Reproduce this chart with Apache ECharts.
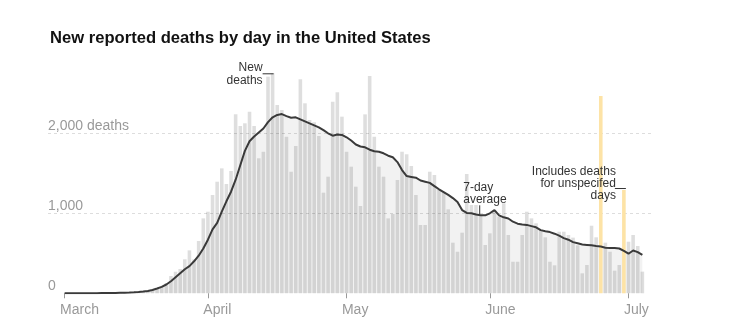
<!DOCTYPE html>
<html><head><meta charset="utf-8">
<script src="https://cdn.jsdelivr.net/npm/echarts@6/dist/echarts.min.js"></script>
<style>html,body{margin:0;padding:0;background:#fff}#c{width:736px;height:328px}</style>
</head><body><div id="c"></div>
<script>
// Day index 0 = March 1, 2020
const dailyDeaths = [
  1, 0, 1, 2, 1, 2, 3, 3, 5, 4, 7, 6, 10, 10,
  12, 18, 23, 30, 35, 50, 60, 85, 125, 216, 270, 304, 425, 537, 425, 654, 937,
  1020, 1229, 1395, 1562, 1366, 1529, 2237, 2091, 2125, 2270, 2091, 1687, 1770, 2708, 2750,
  2354, 2291, 1958, 1520, 1841, 2675, 2375, 2166, 2137, 1966, 1258, 1458, 2395, 2512, 2208,
  1770, 1583, 1333, 1091, 2237, 2716, 1958, 1583, 1458, 937, 991, 1416, 1770, 1737, 1591,
  1229, 854, 854, 1520, 1479, 1300, 1270, 1050, 633, 520, 758, 1491, 1104, 1104, 979, 604,
  750, 1033, 958, 1125, 729, 395, 395, 729, 1020, 937, 875, 791, 700, 395, 350, 770,
  770, 729, 696, 600, 250, 354, 845, 700, 2466, 633, 520, 283, 354, 1291,
  645, 729, 591, 271
];
const sevenDayAvg = [
  0, 0, 0, 1, 1, 1, 2, 2, 3, 3, 4, 5, 6, 7, 9,
  12, 16, 22, 30, 42, 60, 80, 110, 150, 200, 250, 300, 340, 400, 470, 560,
  670, 800, 880, 1020, 1150, 1270, 1420, 1600, 1780, 1900, 1960, 2010, 2060, 2140, 2200,
  2230, 2240, 2215, 2195, 2200, 2175, 2150, 2125, 2100, 2075, 2040, 2000, 1970, 1985, 1980,
  1950, 1910, 1860, 1835, 1825, 1795, 1775, 1770, 1750, 1720, 1700, 1640, 1540, 1465, 1455,
  1445, 1410, 1395, 1380, 1340, 1300, 1265, 1230, 1190, 1140, 1040, 1005, 1000, 985, 975, 975,
  1000, 1040, 975, 950, 935, 895, 870, 860, 855, 840, 825, 790, 775, 765, 745,
  720, 690, 670, 640, 625, 610, 605, 600, 590, 585, 570, 565, 565, 560,
  530, 495, 535, 515, 480
];
const highlightDays = [116, 121];
const monthTickDays = [0, 31, 61, 92, 122];
const monthLabels = ['March', 'April', 'May', 'June', 'July'];
const yTickLabels = {0: '0', 1000: '1,000', 2000: '2,000 deaths'};

const chart = echarts.init(document.getElementById('c'), null, {renderer: 'canvas'});
const FONT = '"Liberation Sans", Arial, sans-serif';

const barData = dailyDeaths.map((v, i) => {
  if (highlightDays.includes(i)) {
    return {value: [i, v], itemStyle: {color: '#fde3a6'}};
  }
  return [i, v];
});
const avgData = sevenDayAvg.map((v, i) => [i, v]);
// month labels sit a day to the left of their tick, left-aligned
const labelDays = monthTickDays.map(d => d - 1);

chart.setOption({
  animation: false,
  title: {
    text: 'New reported deaths by day in the United States',
    left: 50, top: 30, padding: 0,
    textStyle: {fontFamily: FONT, fontSize: 16.6, fontWeight: 'bold', color: '#121212'}
  },
  grid: {left: 48, width: 605, top: 53.3, bottom: 34.7},
  xAxis: {
    type: 'value', min: -3.6, max: 127.3,
    splitLine: {show: false},
    axisLine: {show: false},
    axisTick: {show: true, customValues: monthTickDays, length: 5, lineStyle: {color: '#999'}},
    axisLabel: {
      customValues: labelDays,
      align: 'left',
      formatter: v => monthLabels[labelDays.indexOf(Math.round(v))] || '',
      color: '#999', fontFamily: FONT, fontSize: 14, margin: 10
    }
  },
  yAxis: {
    type: 'value', min: 0, max: 3000, interval: 1000,
    axisLine: {show: false}, axisTick: {show: false},
    splitLine: {show: true, lineStyle: {type: [3, 3], color: ['transparent', '#ddd', '#ddd', 'transparent']}},
    axisLabel: {
      inside: true, margin: 0, align: 'left', verticalAlign: 'bottom', padding: [0, 0, 0, 0],
      formatter: v => yTickLabels[v] || '',
      color: '#999', fontFamily: FONT, fontSize: 14
    }
  },
  series: [
    {
      type: 'line', data: avgData, symbol: 'none', z: 1,
      lineStyle: {width: 0, opacity: 0},
      areaStyle: {color: 'rgba(0,0,0,0.075)'}
    },
    {
      type: 'bar', data: barData, barWidth: 3.6, z: 2,
      itemStyle: {color: 'rgba(0,0,0,0.13)'}
    },
    {
      type: 'line', data: avgData, symbol: 'none', z: 3,
      lineStyle: {width: 2, color: '#3a3a3a'}
    }
  ]
});

// Annotations anchored to data coordinates
const px = (d, v) => chart.convertToPixel({gridIndex: 0}, [d, v]);
const aNew = px(45, 2750);
const aAvg = px(89.7, 975);
const aUns = px(121, 1291);
const txt = (x, y, s, align) => ({
  type: 'text', x, y, z: 10,
  style: {text: s, fill: '#333', font: '12px ' + FONT, textAlign: align, textVerticalAlign: 'middle'}
});
const seg = (x1, y1, x2, y2) => ({
  type: 'line', z: 10, shape: {x1, y1, x2, y2}, style: {stroke: '#333', lineWidth: 1}
});
chart.setOption({
  graphic: [
    txt(aNew[0] - 10, aNew[1] - 6, 'New', 'right'),
    txt(aNew[0] - 10, aNew[1] + 7, 'deaths', 'right'),
    seg(aNew[0] - 10, aNew[1] + 0.5, aNew[0] + 1, aNew[1] + 0.5),
    txt(aAvg[0] - 16, aAvg[1] - 28, '7-day', 'left'),
    txt(aAvg[0] - 16, aAvg[1] - 16, 'average', 'left'),
    seg(aAvg[0] + 0.5, aAvg[1] - 10, aAvg[0] + 0.5, aAvg[1] - 1),
    txt(aUns[0] - 8, aUns[1] - 18, 'Includes deaths', 'right'),
    txt(aUns[0] - 8, aUns[1] - 6, 'for unspecifed', 'right'),
    txt(aUns[0] - 8, aUns[1] + 6, 'days', 'right'),
    seg(aUns[0] - 9, aUns[1] - 1.5, aUns[0] + 2, aUns[1] - 1.5)
  ]
});
</script>
</body></html>
